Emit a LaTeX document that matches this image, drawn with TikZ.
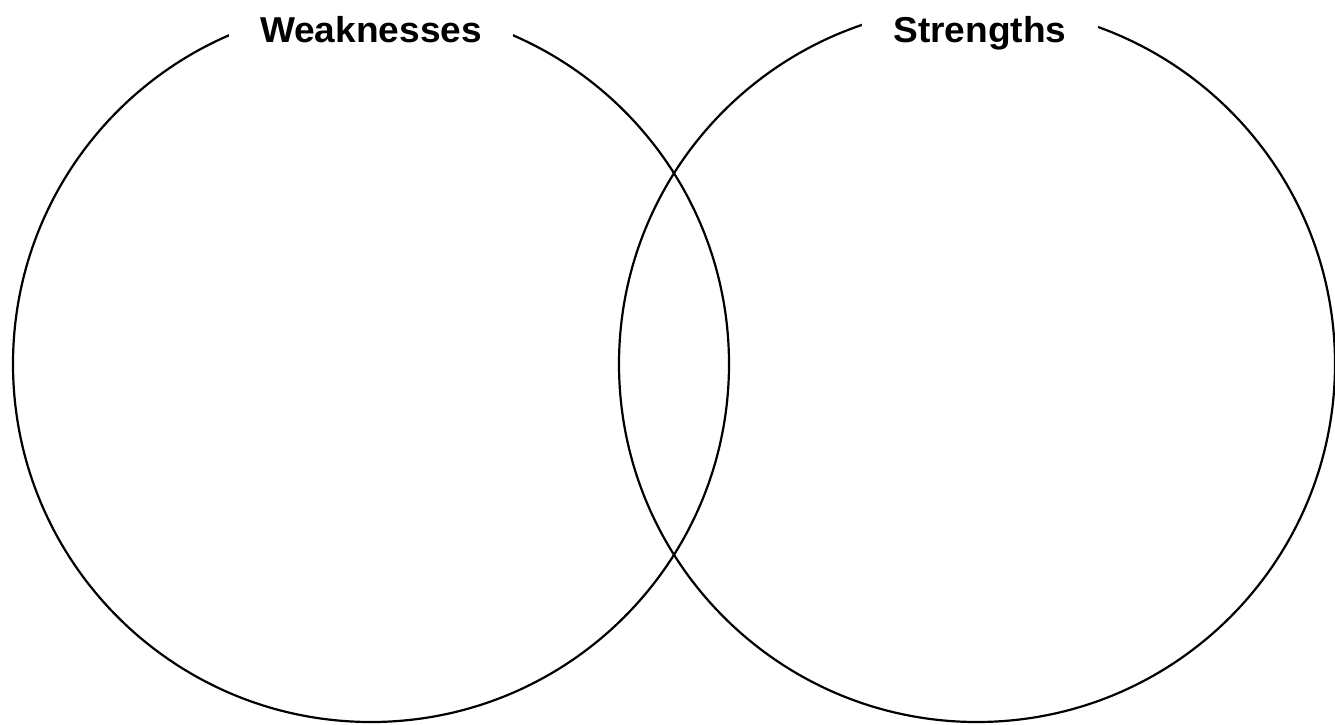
\documentclass[tikz,border=0pt]{standalone}
\usepackage{fontspec}
\usepackage{graphicx}
\setmainfont{Liberation Sans}
\usetikzlibrary{calc}
\tikzset{
  ring/.style={circle, draw=black, line width=2.2pt, minimum size=716pt,
    inner sep=0pt, outer sep=0pt},
  setlabel/.style={fill=white, anchor=base, inner xsep=31pt, inner ysep=14pt,
    font=\fontsize{36}{42}\selectfont\bfseries}
}
\begin{document}
\begin{tikzpicture}[x=1pt, y=-1pt]
    \useasboundingbox (0,0) rectangle (1335,724);
    \node[ring] (weak) at (371,364) {};
    \node[ring] (strong) at (977,364) {};

    \node[setlabel] (weaklbl) at ($(weak.north)+(0,36)$) {\scalebox{1.03}[1]{Weaknesses}};
    \node[setlabel] (stronglbl) at ($(strong.north)+(3,36)$) {\scalebox{1.03}[1]{Strengths}};
\end{tikzpicture}
\end{document}
